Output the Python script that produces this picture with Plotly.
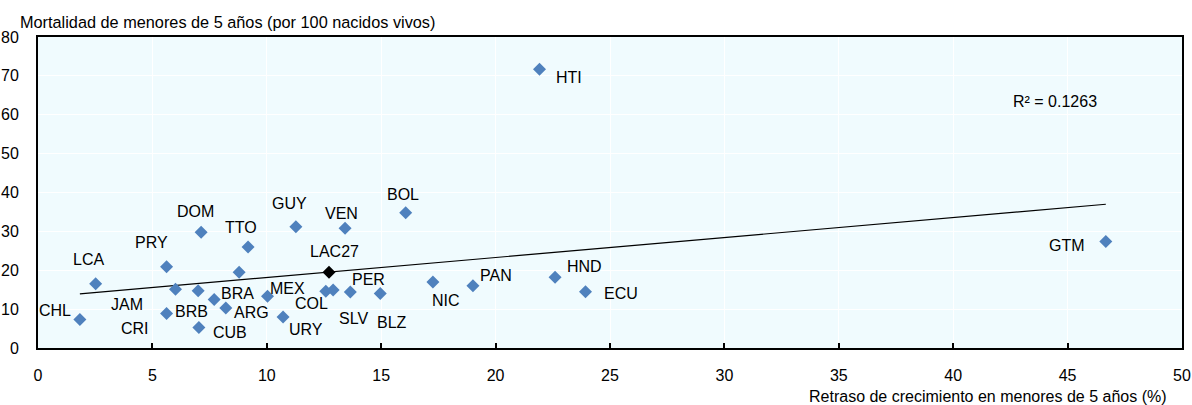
import numpy as np
import plotly.graph_objects as go

# ---- data ----
countries = ["CHL", "LCA", "PRY", "JAM", "CRI", "BRA", "CUB", "BRB", "ARG", "",
             "TTO", "DOM", "MEX", "URY", "GUY", "COL", "PER", "VEN", "SLV", "BLZ",
             "BOL", "NIC", "PAN", "HND", "ECU", "HTI", "GTM"]
stunting = [1.83, 2.52, 5.62, 6.01, 5.62, 7.00, 7.03, 7.70, 8.21, 8.79,
            9.18, 7.13, 10.03, 10.71, 11.27, 12.58, 12.90, 13.42, 13.65, 14.96,
            16.07, 17.26, 19.01, 22.60, 23.93, 21.92, 46.67]
mortality = [7.3, 16.5, 20.9, 15.1, 8.9, 14.7, 5.3, 12.5, 10.3, 19.5,
             26.0, 29.8, 13.3, 8.0, 31.2, 14.6, 14.9, 30.8, 14.4, 14.0,
             34.8, 17.0, 16.0, 18.2, 14.5, 71.7, 27.4]
avg_name = "LAC27"
avg_x = [12.72]
avg_y = [19.5]
r2_text = "R² = 0.1263"
x_title = "Retraso de crecimiento en menores de 5 años (%)"
y_title = "Mortalidad de menores de 5 años (por 100 nacidos vivos)"

# label pixel offsets (dx right, dy up)
label_dx = [-25, -7, -15, -49, -32, 39, 31, -23, 26, 0,
            -7, -6, 20, 23, -6, -14, 35, -4, 3, 12,
            -3, 13, 23, 29, 35, 29, -39]
label_dy = [9, 24, 24, -15, -15, -3, -5, -12, -5, 0,
            19, 21, 8, -13, 23, -12, 11, 15, -26, -29,
            18, -19, 10, 11, -2, -8, -4]

FONT = "Liberation Sans, Arial, sans-serif"
FS = 16
BLUE = "#4F81BD"

# trend line from least squares fit
slope, intercept = np.polyfit(stunting, mortality, 1)
xt = np.array([min(stunting), max(stunting)])
yt = slope * xt + intercept

W, H = 1192, 405
L, R, T, B = 38, 10, 37, 57
pw, ph = W - L - R, H - T - B
def px(xp):
    return (xp - L) / pw
def py(yp):
    return (H - B - yp) / ph

fig = go.Figure()
fig.add_trace(go.Scatter(x=xt, y=yt, mode="lines",
                         line=dict(color="black", width=1.2), hoverinfo="skip"))
fig.add_trace(go.Scatter(x=stunting, y=mortality, mode="markers",
                         marker=dict(symbol="diamond", size=10, color=BLUE),
                         text=countries))
fig.add_trace(go.Scatter(x=avg_x, y=avg_y, mode="markers",
                         marker=dict(symbol="diamond", size=10, color="black"),
                         text=[avg_name]))

for c, x, y, dx, dy in zip(countries, stunting, mortality, label_dx, label_dy):
    if not c:
        continue
    fig.add_annotation(x=x, y=y, xref="x", yref="y", text=c, showarrow=False,
                       xshift=dx, yshift=dy, font=dict(family=FONT, size=FS, color="black"))
fig.add_annotation(x=avg_x[0], y=avg_y[0], xref="x", yref="y", text=avg_name,
                   showarrow=False, xshift=5, yshift=21,
                   font=dict(family=FONT, size=FS, color="black"))
fig.add_annotation(x=px(1055), y=py(101), xref="paper", yref="paper", text=r2_text,
                   showarrow=False, xanchor="center", yanchor="middle",
                   font=dict(family=FONT, size=FS, color="black"))
fig.add_annotation(x=px(18), y=py(22), xref="paper", yref="paper", text=y_title,
                   showarrow=False, xanchor="left", yanchor="middle",
                   font=dict(family=FONT, size=16.3, color="black"))
fig.add_annotation(x=px(1169), y=py(396), xref="paper", yref="paper", text=x_title,
                   showarrow=False, xanchor="right", yanchor="middle",
                   font=dict(family=FONT, size=FS, color="black"))

fig.update_layout(
    width=W, height=H,
    margin=dict(l=L, r=R, t=T, b=B, autoexpand=False),
    paper_bgcolor="white",
    plot_bgcolor="#F0FBFE",
    showlegend=False,
    font=dict(family=FONT, size=FS, color="black"),
)
fig.update_xaxes(range=[0, 50], dtick=5, tick0=0, showgrid=True, gridcolor="white", gridwidth=1,
                 showline=True, linecolor="black", linewidth=2, mirror=True,
                 ticks="inside", ticklen=5, tickcolor="black", tickwidth=1.5,
                 ticklabelstandoff=12, zeroline=False, automargin=False,
                 tickfont=dict(family=FONT, size=FS, color="black"))
fig.update_yaxes(range=[0, 80], dtick=10, tick0=0, showgrid=True, gridcolor="white", gridwidth=1,
                 showline=True, linecolor="black", linewidth=2, mirror=True,
                 ticks="", ticklabelstandoff=14, zeroline=False, automargin=False,
                 tickfont=dict(family=FONT, size=FS, color="black"))

fig.write_html("out.html", config={"displayModeBar": False},
               post_script="document.body.style.margin='0';document.body.style.overflow='hidden';")
